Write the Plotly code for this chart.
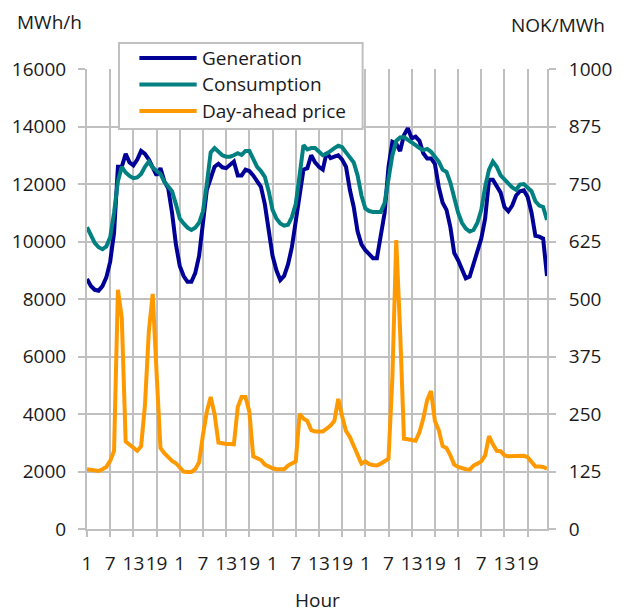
import plotly.graph_objects as go

# hourly values, 5 days
generation = [
    8700, 8450, 8320, 8290, 8450, 8750, 9300, 10300, 12600, 12600, 13050, 12750,
    12650, 12850, 13150, 13050, 12850, 12600, 12300, 12550, 12100, 11850, 11000, 9900,
    9150, 8800, 8600, 8600, 8900, 9500, 10700, 11800, 12200, 12600, 12700, 12580,
    12550, 12650, 12780, 12300, 12300, 12500, 12450, 12300, 12100, 11900, 11300, 10400,
    9500, 9000, 8660, 8800, 9200, 9800, 10600, 11600, 12500, 12550, 13000, 12750,
    12600, 12500, 13100, 12900, 12950, 13000, 12850, 12600, 11800, 11200, 10350, 9900,
    9700, 9550, 9420, 9420, 10200, 11000, 12600, 13470, 13400, 13150, 13700, 13940,
    13590, 13650, 13500, 13070, 12890, 12890, 12700, 11900, 11350, 11100, 10500, 9600,
    9350, 9000, 8720, 8780, 9200, 9650, 10100, 10800, 12150, 12150, 11950, 11700,
    11200, 11050, 11250, 11600, 11750, 11780, 11550, 11000, 10200, 10170, 10100, 8800,
]
consumption = [
    10500, 10200, 9950, 9800, 9730, 9830, 10150, 11000, 12100, 12600, 12400, 12280,
    12200, 12230, 12350, 12600, 12780, 12570, 12450, 12350, 12080, 11900, 11750, 11300,
    10800, 10630, 10480, 10400, 10480, 10650, 11050, 12000, 13100, 13250, 13100, 13000,
    12950, 12950, 13000, 13070, 13010, 13150, 13150, 12850, 12600, 12450, 12250, 11750,
    11100, 10800, 10630, 10550, 10580, 10850, 11300, 12300, 13350, 13200, 13250, 13250,
    13100, 13000, 13050, 13170, 13250, 13330, 13280, 13100, 12950, 12750, 12300, 11600,
    11150, 11060, 11030, 11030, 11030, 11350, 12100, 13000, 13500, 13620, 13630, 13550,
    13450, 13350, 13250, 13180, 13220, 13120, 12950, 12780, 12500, 12420, 12050, 11560,
    11000, 10650, 10450, 10350, 10400, 10650, 11100, 11900, 12500, 12780, 12600, 12300,
    12150, 12000, 11880, 11800, 11980, 12000, 11880, 11750, 11400, 11250, 11200, 10750,
]
price = [
    130, 128, 127, 126, 130, 135, 148, 170, 520, 459, 190, 184,
    178, 170, 180, 270, 430, 511, 340, 176, 165, 155, 148, 143,
    133, 125, 124, 124, 130, 145, 205, 255, 287, 250, 188, 186,
    185, 185, 184, 265, 287, 287, 255, 158, 155, 150, 140, 135,
    132, 130, 129, 130, 138, 143, 147, 250, 240, 235, 215, 212,
    212, 212, 218, 225, 235, 283, 245, 213, 200, 180, 160, 142,
    147, 141, 139, 138, 142, 147, 153, 330, 628, 430, 196, 195,
    194, 192, 210, 240, 280, 300, 235, 215, 180, 176, 160, 140,
    135, 132, 130, 129, 138, 142, 147, 160, 202, 184, 170, 169,
    160, 158, 158, 157, 158, 159, 156, 145, 136, 136, 135, 131,
]
hours = list(range(1, len(generation) + 1))
hour_ticks = hours[::6]
hour_labels = ["1", "7", "13", "19"] * 5

names = ["Generation", "Consumption", "Day-ahead price"]
colors = ["#000096", "#008080", "#FF9900"]

W, H = 624, 613
L, R, T, B = 85, 559, 69, 529
grid = "#C0C0C0"
font = dict(family="Open Sans", size=19, color="#1a1a1a")


def px(x):
    return (x - L) / (R - L)


def py(y):
    return (B - y) / (B - T)


fig = go.Figure()
fig.add_trace(go.Scatter(x=hours, y=generation, mode="lines", name=names[0],
                         line=dict(color=colors[0], width=4)))
fig.add_trace(go.Scatter(x=hours, y=consumption, mode="lines", name=names[1],
                         line=dict(color=colors[1], width=4)))
fig.add_trace(go.Scatter(x=hours, y=price, mode="lines", name=names[2], yaxis="y2",
                         line=dict(color=colors[2], width=4)))

fig.update_layout(
    width=W, height=H,
    margin=dict(l=L, r=W - R, t=T, b=H - B),
    plot_bgcolor="white", paper_bgcolor="white",
    font=font, showlegend=False,
    xaxis=dict(range=[1, len(hours)], tickvals=hour_ticks, ticktext=hour_labels,
               tickangle=0, showgrid=True, gridcolor=grid, gridwidth=2,
               ticks="outside", ticklen=6, tickwidth=2, tickcolor=grid,
               showline=True, linecolor=grid, linewidth=2, zeroline=False,
               ticklabelstandoff=10),
    yaxis=dict(range=[0, 16000], dtick=2000, tickformat="d",
               showgrid=True, gridcolor=grid, gridwidth=2,
               ticks="outside", ticklen=7, tickwidth=2, tickcolor=grid,
               showline=True, linecolor=grid, linewidth=2, zeroline=False,
               ticklabelstandoff=8),
    yaxis2=dict(range=[0, 1000], dtick=125, tickformat="d",
                overlaying="y", side="right", showgrid=False,
                ticks="outside", ticklen=7, tickwidth=2, tickcolor=grid,
                showline=True, linecolor=grid, linewidth=2, zeroline=False,
                ticklabelstandoff=9),
)

# axis titles
fig.add_annotation(text="MWh/h", xref="paper", yref="paper", x=px(11), y=py(22),
                   xanchor="left", yanchor="middle", showarrow=False)
fig.add_annotation(text="NOK/MWh", xref="paper", yref="paper", x=px(621), y=py(25),
                   xanchor="right", yanchor="middle", showarrow=False)
fig.add_annotation(text="Hour", xref="paper", yref="paper", x=0.5, y=py(600),
                   xanchor="center", yanchor="middle", showarrow=False)

# legend box drawn like the original
fig.add_shape(type="rect", xref="paper", yref="paper", x0=px(118), x1=px(369),
              y0=py(129), y1=py(43), fillcolor="white", line=dict(color=grid, width=2),
              layer="above")
for i, (name, c) in enumerate(zip(names, colors)):
    yy = py(58 + i * 26.5)
    fig.add_shape(type="line", xref="paper", yref="paper", x0=px(139), x1=px(198),
                  y0=yy, y1=yy, line=dict(color=c, width=4), layer="above")
    fig.add_annotation(text=name, xref="paper", yref="paper", x=px(201), y=yy,
                       xanchor="left", yanchor="middle", showarrow=False)

# drop the default 8px page margin so the figure sits at the window corner
fix_page = "document.body.style.margin='0';document.body.style.overflow='hidden';"
fig.write_html("out.html", config={"displayModeBar": False}, post_script=fix_page)
